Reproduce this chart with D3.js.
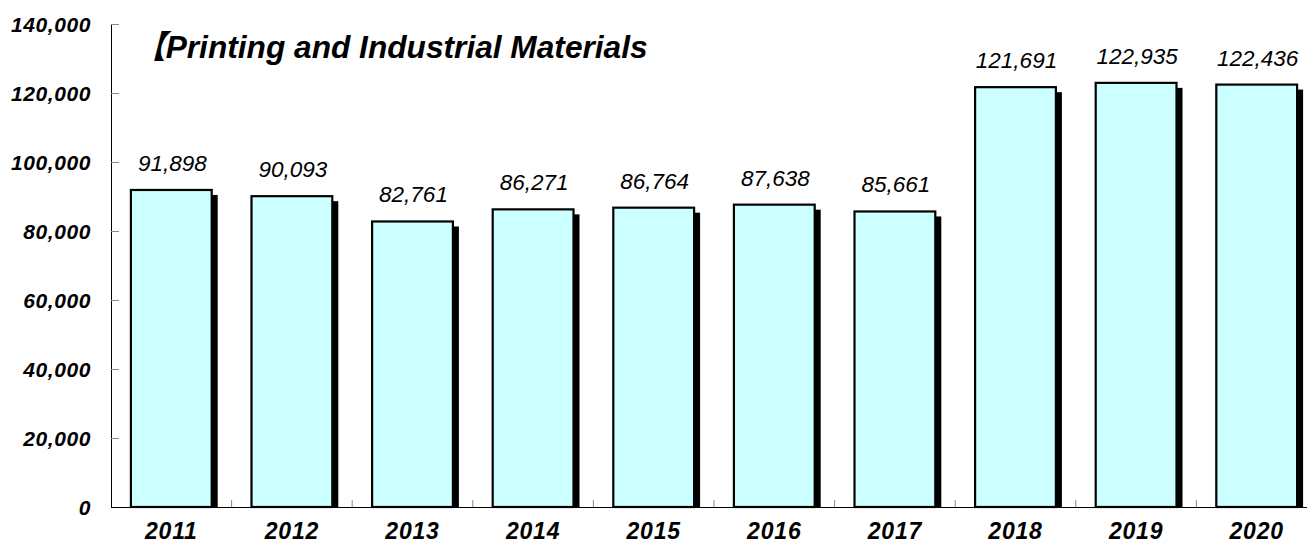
<!DOCTYPE html>
<html><head><meta charset="utf-8">
<script src="https://cdn.jsdelivr.net/npm/d3@7/dist/d3.min.js"></script>
<style>body{margin:0;background:#fff}svg{display:block}</style>
</head><body>
<svg id="chart" width="1307" height="546"></svg>
<script>
const years = ["2011","2012","2013","2014","2015","2016","2017","2018","2019","2020"];
const values = [91898, 90093, 82761, 86271, 86764, 87638, 85661, 121691, 122935, 122436];
const yTicks = [0, 20000, 40000, 60000, 80000, 100000, 120000, 140000];
const title = "【Printing and Industrial Materials";

const svg = d3.select("#chart");
const x0 = 111, x1 = 1317, yTop = 24, yBot = 507;
const x = d3.scaleBand().domain(years).range([x0, x1]).paddingInner(0.33).paddingOuter(0.165);
const y = d3.scaleLinear().domain([0, 140000]).range([yBot, yTop]);
const fmt = d3.format(",");

// shadows
const sdx = 6, sdy = 5;
svg.append("g").selectAll("rect").data(values).join("rect")
  .attr("x", (d,i) => x(years[i]) + sdx)
  .attr("y", d => y(d) + sdy)
  .attr("width", x.bandwidth())
  .attr("height", d => yBot - y(d) - sdy)
  .attr("fill", "#000");

// bars
svg.append("g").selectAll("rect").data(values).join("rect")
  .attr("x", (d,i) => x(years[i]))
  .attr("y", d => y(d))
  .attr("width", x.bandwidth())
  .attr("height", d => yBot - y(d))
  .attr("fill", "#ccffff")
  .attr("stroke", "#000")
  .attr("stroke-width", 2.2);

// y axis
const yAxis = d3.axisRight(y).tickValues(yTicks).tickSize(8).tickFormat("");
const gy = svg.append("g").attr("transform", `translate(${x0},0)`).call(yAxis);
gy.select(".domain").attr("stroke", "#000").attr("d", `M0.5,${yTop}V${yBot}`);
gy.selectAll(".tick line").attr("stroke", "#888");

svg.append("g").selectAll("text").data(yTicks).join("text")
  .attr("x", 91).attr("y", d => y(d))
  .attr("dy", "0.36em")
  .attr("text-anchor", "end")
  .attr("font-family", "Liberation Sans, Arial, sans-serif")
  .attr("font-weight", "bold").attr("font-style", "italic")
  .attr("font-size", 21).attr("letter-spacing", 0.6)
  .attr("fill", "#000")
  .text(d => fmt(d));

// x axis line
svg.append("line").attr("x1", x0).attr("x2", x1).attr("y1", yBot + 0.5).attr("y2", yBot + 0.5).attr("stroke", "#000");
// x ticks at band boundaries
const bounds = d3.range(1, years.length + 1).map(i => x0 + x.step() * i);
svg.append("g").selectAll("line").data(bounds).join("line")
  .attr("x1", d => d).attr("x2", d => d)
  .attr("y1", yBot).attr("y2", yBot - 7)
  .attr("stroke", "#888");

// x labels
svg.append("g").selectAll("text").data(years).join("text")
  .attr("x", d => x(d) + x.bandwidth() / 2)
  .attr("y", 539)
  .attr("text-anchor", "middle")
  .attr("font-family", "Liberation Sans, Arial, sans-serif")
  .attr("font-weight", "bold").attr("font-style", "italic")
  .attr("font-size", 23).attr("letter-spacing", 0.8)
  .attr("fill", "#000")
  .text(d => d);

// value labels
svg.append("g").selectAll("text").data(values).join("text")
  .attr("x", (d,i) => x(years[i]) + x.bandwidth() / 2 + 1)
  .attr("y", d => y(d) - 19)
  .attr("text-anchor", "middle")
  .attr("font-family", "Liberation Sans, Arial, sans-serif")
  .attr("font-style", "italic")
  .attr("font-size", 22.5)
  .attr("fill", "#000")
  .text(d => fmt(d));

// title
const t = svg.append("text")
  .attr("x", 134).attr("y", 58)
  .attr("font-family", "Liberation Sans, Arial, 'Noto Sans CJK JP', sans-serif")
  .attr("font-style", "italic").attr("font-weight", "bold")
  .attr("font-size", 26)
  .attr("fill", "#000")
  .text(title);
const w = t.node().getComputedTextLength();
t.attr("font-size", 26 * 514 / w);
</script>
</body></html>
